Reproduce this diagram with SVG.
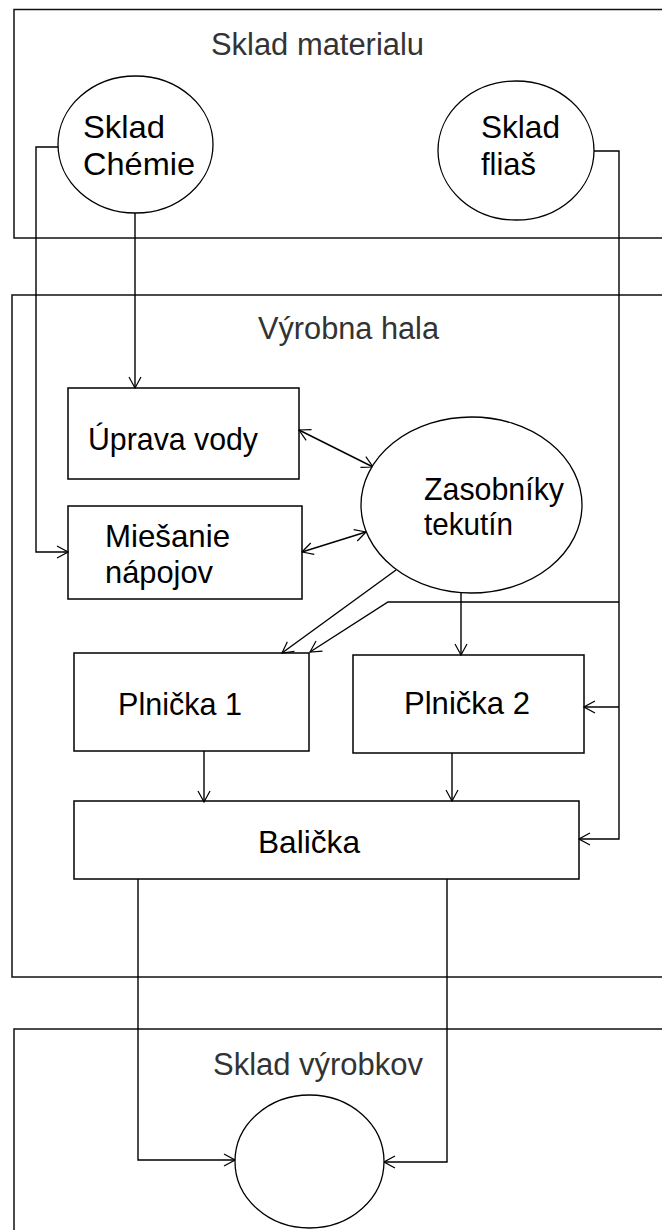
<svg xmlns="http://www.w3.org/2000/svg" width="662" height="1230" viewBox="0 0 662 1230">
<style>
.box{fill:none;stroke:#000;stroke-width:1.5}
.cont{fill:none;stroke:#111;stroke-width:1.5}
.ell{fill:#fff;stroke:#000;stroke-width:1.3}
.ln{fill:none;stroke:#000;stroke-width:1.4}
.lbl{font-family:"Liberation Sans",Arial,sans-serif;font-size:32px;fill:#000}
.ttl{font-family:"Liberation Sans",Arial,sans-serif;font-size:31px;fill:#333}
</style>
<defs>
<marker id="arr" viewBox="-13 -8 14 16" refX="0" refY="0" markerWidth="14" markerHeight="16" markerUnits="userSpaceOnUse" orient="auto-start-reverse">
<path d="M-11,-6 L0,0 L-11,6" fill="none" stroke="#000" stroke-width="1.2"/>
</marker>
</defs>
<g id="sklad-materialu">
<rect class="cont" x="14" y="9.5" width="700" height="228.5"/>
<text class="ttl" x="211" y="55" textLength="213" lengthAdjust="spacingAndGlyphs">Sklad materialu</text>
</g>
<g id="vyrobna-hala">
<rect class="cont" x="12" y="295" width="700" height="682"/>
<text class="ttl" x="258" y="339" textLength="181" lengthAdjust="spacingAndGlyphs">Výrobna hala</text>
</g>
<g id="sklad-vyrobkov">
<rect class="cont" x="14" y="1029" width="700" height="260"/>
<text class="ttl" x="213" y="1075" textLength="210" lengthAdjust="spacingAndGlyphs">Sklad výrobkov</text>
</g>
<g id="connectors">
<path class="ln" d="M58,147 H36 V552 H68" marker-end="url(#arr)"/>
<path class="ln" d="M135,213 V388" marker-end="url(#arr)"/>
<path class="ln" d="M594,151 H619 V839 H579" marker-end="url(#arr)"/>
<path class="ln" d="M619,707 H584" marker-end="url(#arr)"/>
<path class="ln" d="M619,602 H388 L310,652" marker-end="url(#arr)"/>
<path class="ln" d="M396,570 L282,653" marker-end="url(#arr)"/>
<path class="ln" d="M299,430 L373,467" marker-start="url(#arr)" marker-end="url(#arr)"/>
<path class="ln" d="M302,552 L366,532" marker-start="url(#arr)" marker-end="url(#arr)"/>
<path class="ln" d="M461,593 V655" marker-end="url(#arr)"/>
<path class="ln" d="M204,751 V802" marker-end="url(#arr)"/>
<path class="ln" d="M452,753 V801" marker-end="url(#arr)"/>
<path class="ln" d="M138,879 V1160 H235" marker-end="url(#arr)"/>
<path class="ln" d="M447,879 V1162 H384" marker-end="url(#arr)"/>
</g>
<g id="sklad-chemie">
<ellipse class="ell" cx="135.5" cy="144.5" rx="77.5" ry="68.5"/>
<text class="lbl" x="83" y="138" textLength="82" lengthAdjust="spacingAndGlyphs">Sklad</text>
<text class="lbl" x="83" y="175" textLength="112" lengthAdjust="spacingAndGlyphs">Chémie</text>
</g>
<g id="sklad-flias">
<ellipse class="ell" cx="516" cy="150.5" rx="78" ry="69.5"/>
<text class="lbl" x="481" y="138" textLength="79" lengthAdjust="spacingAndGlyphs">Sklad</text>
<text class="lbl" x="481" y="175" textLength="55" lengthAdjust="spacingAndGlyphs">fliaš</text>
</g>
<g id="uprava-vody">
<rect class="box" x="68" y="388" width="231" height="91"/>
<text class="lbl" x="88" y="450" textLength="170" lengthAdjust="spacingAndGlyphs">Úprava vody</text>
</g>
<g id="miesanie-napojov">
<rect class="box" x="68" y="506" width="234" height="93"/>
<text class="lbl" x="105" y="547" textLength="125" lengthAdjust="spacingAndGlyphs">Miešanie</text>
<text class="lbl" x="105" y="583" textLength="108" lengthAdjust="spacingAndGlyphs">nápojov</text>
</g>
<g id="zasobniky-tekutin">
<ellipse class="ell" cx="471.5" cy="505" rx="110.5" ry="88"/>
<text class="lbl" x="424" y="500" textLength="140" lengthAdjust="spacingAndGlyphs">Zasobníky</text>
<text class="lbl" x="424" y="535" textLength="89" lengthAdjust="spacingAndGlyphs">tekutín</text>
</g>
<g id="plnicka-1">
<rect class="box" x="74" y="653" width="235" height="98"/>
<text class="lbl" x="118" y="715" textLength="124" lengthAdjust="spacingAndGlyphs">Plnička 1</text>
</g>
<g id="plnicka-2">
<rect class="box" x="353" y="655" width="231" height="98"/>
<text class="lbl" x="404" y="714" textLength="126" lengthAdjust="spacingAndGlyphs">Plnička 2</text>
</g>
<g id="balicka">
<rect class="box" x="74" y="801" width="505" height="78"/>
<text class="lbl" x="258" y="853" textLength="102" lengthAdjust="spacingAndGlyphs">Balička</text>
</g>
<g id="vyrobky">
<ellipse class="ell" cx="309.5" cy="1161.5" rx="74.5" ry="66.5"/>
</g>
</svg>
